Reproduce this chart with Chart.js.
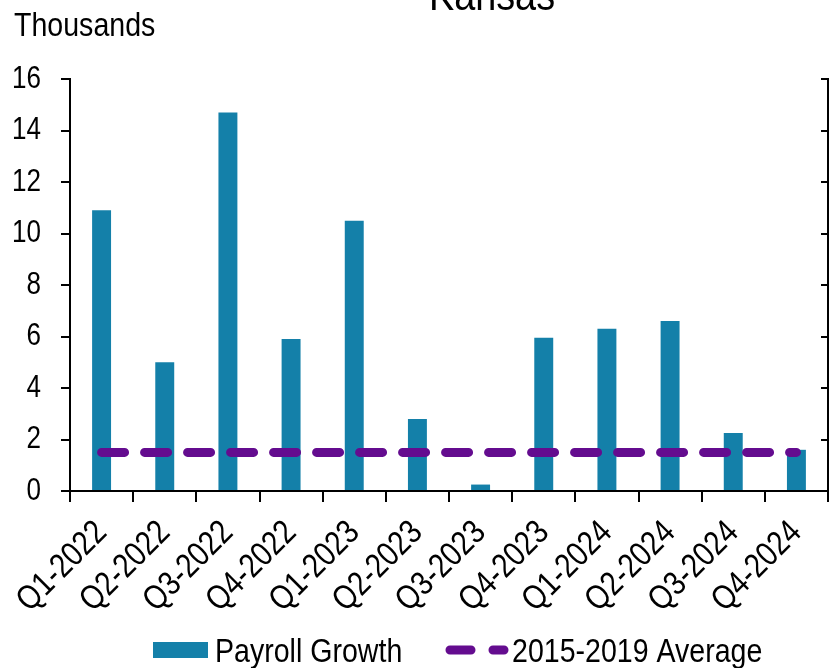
<!DOCTYPE html>
<html>
<head>
<meta charset="utf-8">
<script src="https://cdn.jsdelivr.net/npm/chart.js@4.4.1/dist/chart.umd.min.js"></script>
<style>
  html, body { margin: 0; padding: 0; background: #fff; }
  #wrap { width: 832px; height: 668px; }
</style>
</head>
<body>
<div id="wrap"><canvas id="chart" width="832" height="668"></canvas></div>
<script>
// data
const categories = ['Q1-2022', 'Q2-2022', 'Q3-2022', 'Q4-2022', 'Q1-2023', 'Q2-2023',
                    'Q3-2023', 'Q4-2023', 'Q1-2024', 'Q2-2024', 'Q3-2024', 'Q4-2024'];
const payrollGrowth = [10.9, 5.0, 14.7, 5.9, 10.5, 2.8, 0.25, 5.95, 6.3, 6.6, 2.25, 1.6];
const average2015to2019 = [1.5, 1.5, 1.5, 1.5, 1.5, 1.5, 1.5, 1.5, 1.5, 1.5, 1.5, 1.5];
const yTickValues = [0, 2, 4, 6, 8, 10, 12, 14, 16];

const chartTitle = 'Kansas';
const unitLabel = 'Thousands';

const BAR_COLOR = '#1480A9';
const AVG_COLOR = '#640C8F';
const FONT = "'Liberation Sans', Arial, sans-serif";
const SQUEEZE = 0.84; // source uses a condensed Arial-like face

// No narrow font installed: squeeze every label horizontally around its anchor
const condensedText = {
  id: 'condensedText',
  beforeDraw(chart) {
    const ctx = chart.ctx;
    const orig = CanvasRenderingContext2D.prototype.fillText;
    ctx.fillText = function (text, x, y) {
      this.save();
      this.translate(x, y);
      this.scale(SQUEEZE, 1);
      orig.call(this, text, 0, 0);
      this.restore();
    };
  },
  afterDraw(chart) {
    delete chart.ctx.fillText;
  }
};

// Title and unit label in the top margin
const headerPlugin = {
  id: 'header',
  afterDraw(chart) {
    const ctx = chart.ctx;
    ctx.save();
    ctx.fillStyle = '#000';
    ctx.textBaseline = 'alphabetic';
    ctx.font = '34px ' + FONT;
    ctx.textAlign = 'left';
    ctx.fillText(unitLabel, 14, 36);
    ctx.font = '45px ' + FONT;
    ctx.textAlign = 'center';
    ctx.fillText(chartTitle, 492, 10);
    ctx.restore();
  }
};

// Legend at the bottom, same look as the source
const legendPlugin = {
  id: 'bottomLegend',
  afterDraw(chart) {
    const ctx = chart.ctx;
    const bars = chart.data.datasets[0];
    const avg = chart.data.datasets[1];
    ctx.save();
    ctx.fillStyle = bars.backgroundColor;
    ctx.fillRect(153, 642, 55, 16);
    ctx.strokeStyle = avg.borderColor;
    ctx.lineWidth = 9;
    ctx.lineCap = 'round';
    ctx.beginPath();
    ctx.moveTo(450, 650); ctx.lineTo(471, 650);
    ctx.moveTo(493, 650); ctx.lineTo(504, 650);
    ctx.stroke();
    ctx.fillStyle = '#000';
    ctx.font = '34px ' + FONT;
    ctx.textAlign = 'left';
    ctx.textBaseline = 'alphabetic';
    ctx.fillText(bars.label, 215, 662);
    ctx.fillText(avg.label, 512, 662);
    ctx.restore();
  }
};

new Chart(document.getElementById('chart'), {
  type: 'bar',
  data: {
    labels: categories,
    datasets: [
      {
        type: 'bar',
        label: 'Payroll Growth',
        data: payrollGrowth,
        backgroundColor: BAR_COLOR,
        barPercentage: 0.3,
        categoryPercentage: 1,
        order: 2,
        yAxisID: 'y'
      },
      {
        type: 'line',
        label: '2015-2019 Average',
        data: average2015to2019,
        borderColor: AVG_COLOR,
        backgroundColor: AVG_COLOR,
        borderWidth: 9,
        borderDash: [23, 20],
        borderCapStyle: 'round',
        pointRadius: 0,
        fill: false,
        order: 1,
        yAxisID: 'y'
      }
    ]
  },
  options: {
    responsive: false,
    animation: false,
    layout: { padding: { top: 79, left: 0, right: 0, bottom: 0 } },
    plugins: {
      legend: { display: false },
      title: { display: false },
      tooltip: { enabled: false }
    },
    scales: {
      x: {
        type: 'category',
        offset: true,
        grid: {
          offset: true,
          drawOnChartArea: false,
          drawTicks: true,
          tickLength: 11,
          color: '#000',
          lineWidth: 2
        },
        border: { display: true, color: '#000', width: 2 },
        ticks: {
          color: '#000',
          font: { family: FONT, size: 34 },
          maxRotation: 45,
          minRotation: 45,
          padding: 11,
          autoSkip: false
        },
        afterFit(scale) {
          scale.height = 177;
          scale.paddingLeft = 0;
          scale.paddingRight = 0;
        }
      },
      y: {
        position: 'left',
        min: 0,
        max: 16,
        afterBuildTicks(scale) { scale.ticks = yTickValues.map(v => ({ value: v })); },
        grid: {
          drawOnChartArea: false,
          drawTicks: true,
          tickLength: 9,
          color: '#000',
          lineWidth: 2
        },
        border: { display: true, color: '#000', width: 2 },
        ticks: {
          color: '#000',
          font: { family: FONT, size: 31 },
          padding: 20
        },
        afterFit(scale) { scale.width = 70; }
      },
      y2: {
        position: 'right',
        min: 0,
        max: 16,
        afterBuildTicks(scale) { scale.ticks = yTickValues.map(v => ({ value: v })); },
        grid: {
          drawOnChartArea: false,
          drawTicks: true,
          tickLength: -7,
          color: '#000',
          lineWidth: 2
        },
        border: { display: true, color: '#000', width: 2 },
        ticks: { display: false },
        afterFit(scale) { scale.width = 4; }
      }
    }
  },
  plugins: [headerPlugin, legendPlugin, condensedText]
});
</script>
</body>
</html>
